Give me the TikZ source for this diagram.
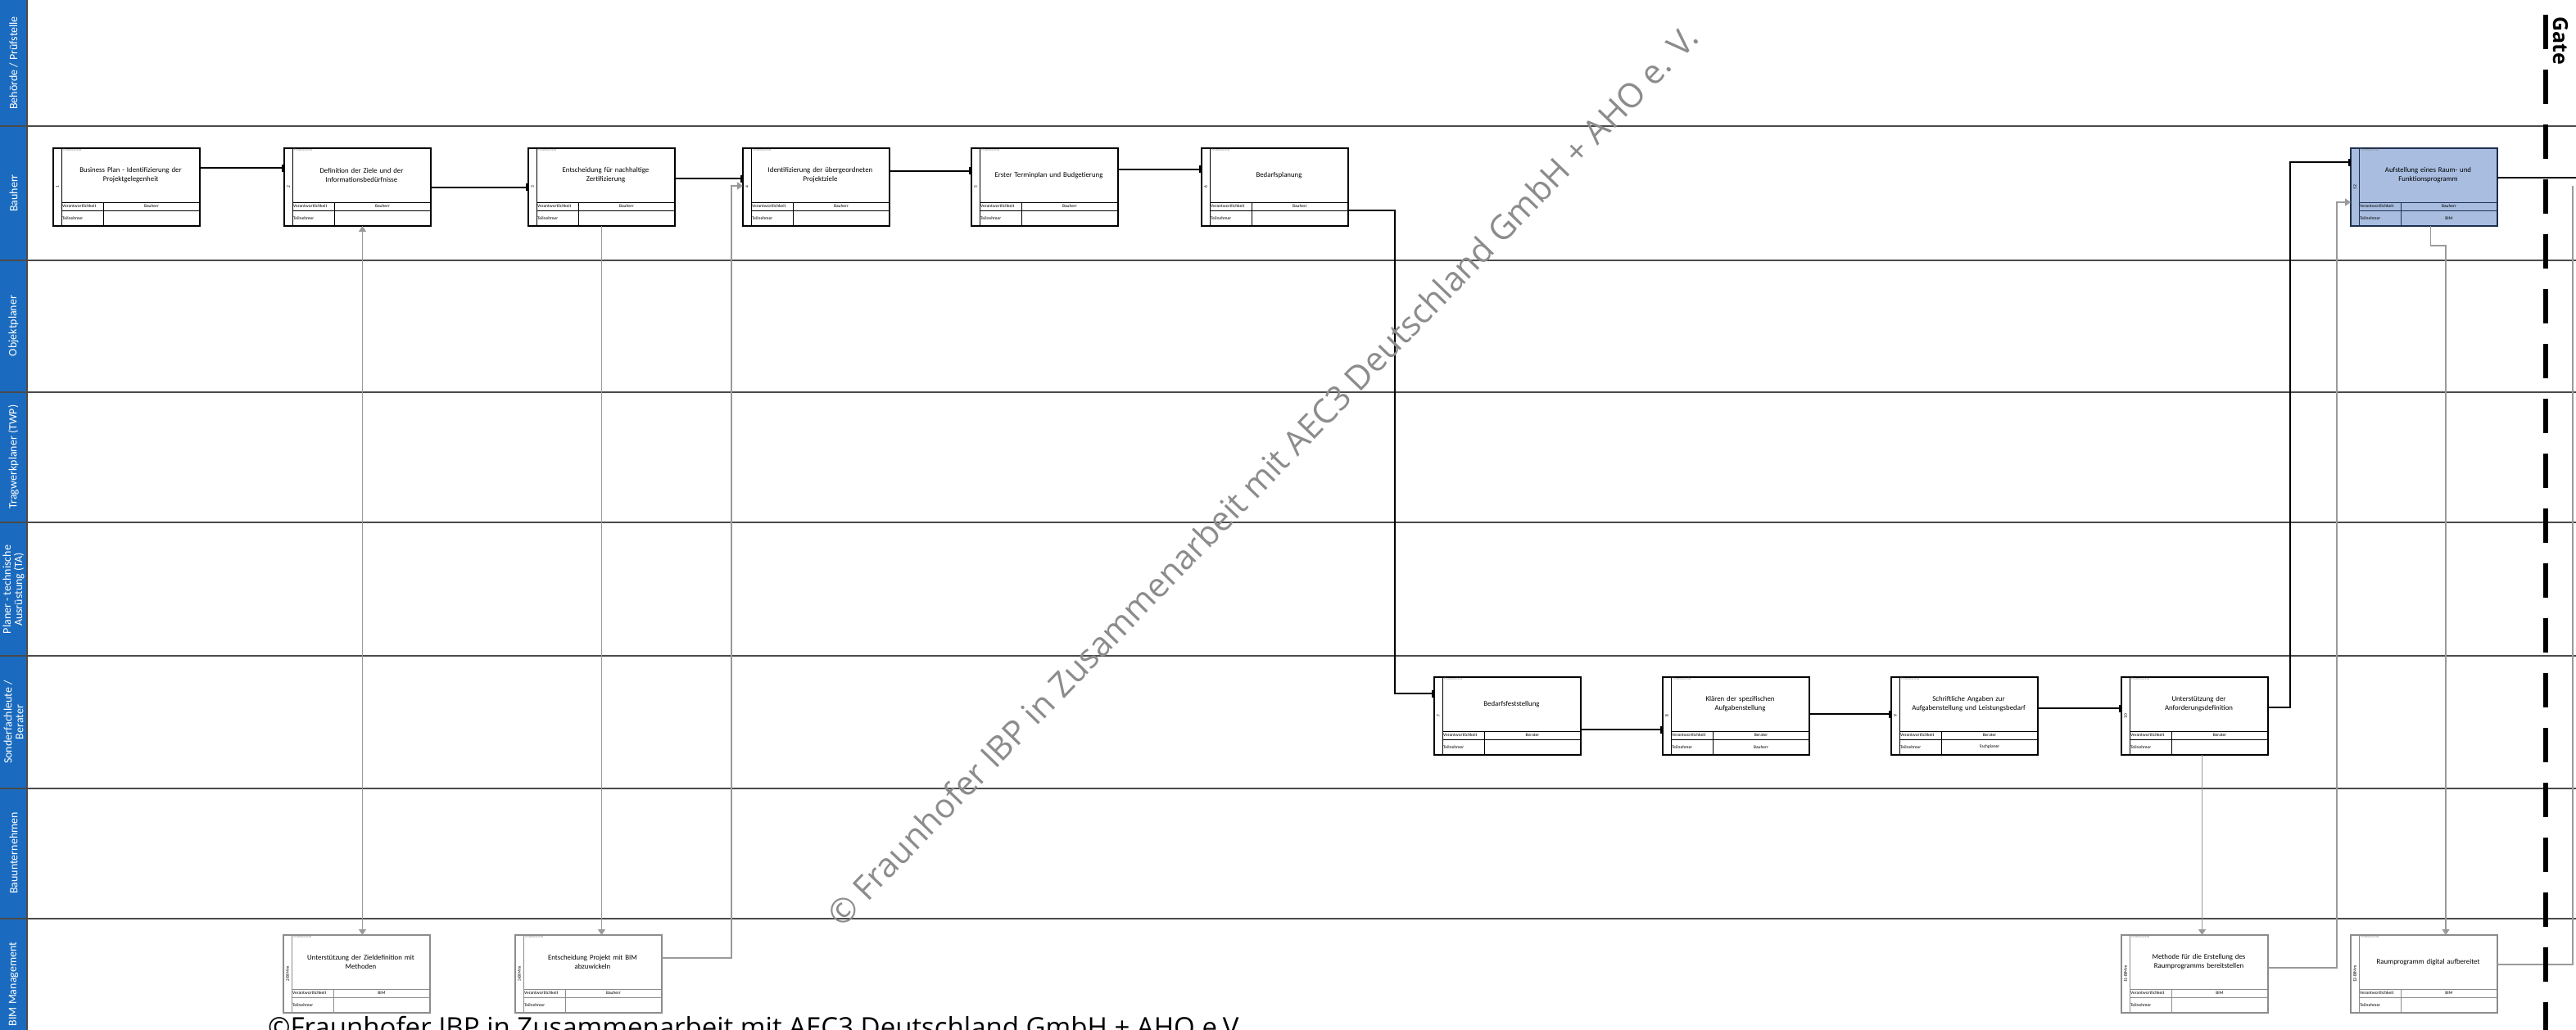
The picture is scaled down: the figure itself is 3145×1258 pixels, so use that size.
\documentclass[tikz,border=0pt]{standalone}
\usepackage{fontspec}
\setmainfont{Carlito}
\newfontfamily\osfont{Open Sans}
\usetikzlibrary{arrows.meta,calc}

\definecolor{lanebar}{HTML}{1A6BBF}
\definecolor{laneline}{HTML}{4A4A4A}
\definecolor{infogray}{HTML}{9A9A9A}
\definecolor{boxblue}{HTML}{A8BDE0}
\definecolor{boxnavy}{HTML}{1F2F4F}
\definecolor{bimline}{HTML}{8C8C8C}

% process box: name, position, line colour, fill, title, responsible, participants, strip label
\newcommand{\prozess}[8]{%
  \node[prozessbox, draw=#3, fill=#4] (#1) at (#2) {};
  \draw[boxline, draw=#3]
    ([xshift=10pt]#1.north west) -- ([xshift=10pt]#1.south west)
    ([xshift=10pt,yshift=-66pt]#1.north west) -- ([yshift=-66pt]#1.north east)
    ([xshift=10pt,yshift=-76pt]#1.north west) -- ([yshift=-76pt]#1.north east)
    ([xshift=61pt,yshift=-66pt]#1.north west) -- ([xshift=61pt]#1.south west);
  \node[titeltext] (#1-titel) at ([xshift=5pt,yshift=14.5pt]#1.center) {#5};
  \node[kleintext, anchor=west] (#1-vl) at ([xshift=11pt,yshift=-71pt]#1.north west) {Verantwortlichkeit};
  \node[kleintext] (#1-vr) at ([xshift=120pt,yshift=-71pt]#1.north west) {#6};
  \node[kleintext, anchor=west] (#1-tl) at ([xshift=11pt,yshift=-85.5pt]#1.north west) {Teilnehmer};
  \node[kleintext] (#1-tr) at ([xshift=120pt,yshift=-85.5pt]#1.north west) {#7};
  \node[kleintext, rotate=90] (#1-nr) at ([xshift=5pt]#1.west) {#8};
  \node[kopftext, anchor=north west] (#1-kopf) at ([xshift=11pt]#1.north west) {Prozessschritt};
}

\begin{document}
\begin{tikzpicture}[
  x=1pt, y=-1pt,
  prozessbox/.style={line width=1.4pt, minimum width=179pt, minimum height=95pt, inner sep=0pt, outer sep=0pt, anchor=north west},
  boxline/.style={line width=1pt},
  titeltext/.style={font=\fontsize{8.8}{11}\selectfont, align=center, text width=160pt, inner sep=0pt},
  kleintext/.style={font=\fontsize{5.5}{6}\selectfont, inner sep=0pt},
  kopftext/.style={font=\fontsize{4}{5}\selectfont, text=black!45, inner sep=1pt},
  lanelabel/.style={rotate=90, text=white, font=\fontsize{14}{14}\selectfont, align=center, inner sep=0pt},
  lanesep/.style={draw=laneline, line width=2pt},
  flow/.style={-{Rectangle[width=9pt,length=3.5pt]}, line width=2pt},
  info/.style={-{Triangle[width=9pt,length=7pt]}, draw=infogray, line width=1.5pt},
  infoboth/.style={{Triangle[width=9pt,length=7pt]}-{Triangle[width=9pt,length=7pt]}, draw=infogray, line width=1.5pt},
  gate/.style={line width=6pt, dash pattern=on 42pt off 25pt},
  watermark/.style={font=\osfont\fontsize{41}{41}\selectfont, text=black!45, rotate=46}
]
  \useasboundingbox (0,0) rectangle (3145,1258);
  \clip (0,0) rectangle (3145,1258);
  \fill[white] (0,0) rectangle (3145,1258);

  % lanes
  \fill[lanebar] (0,0) rectangle (33,1258);
  \foreach \y in {154,318,479,638,801,963,1122}
    \draw[lanesep] (0,\y) -- (3145,\y);
  \draw[lanesep] (33,0) -- (33,1258);

  \node[lanelabel] (lbehoerde) at (16.5,77) {Behörde / Prüfstelle};
  \node[lanelabel] (lbauherr) at (16.5,236) {Bauherr};
  \node[lanelabel] (lobjekt) at (16.5,398) {Objektplaner};
  \node[lanelabel] (ltwp) at (16.5,558) {Tragwerkplaner (TWP)};
  \node[lanelabel] (lta) at (16.5,720) {Planer - technische\\Ausrüstung (TA)};
  \node[lanelabel] (lberater) at (16.5,882) {Sonderfachleute /\\Berater};
  \node[lanelabel] (lbau) at (16.5,1042) {Bauunternehmen};
  \node[lanelabel] (lbim) at (16.5,1202) {BIM Management};

  % Bauherr
  \prozess{bp}{65,181}{black}{white}{Business Plan - Identifizierung der\\Projektgelegenheit}{Bauherr}{}{1}
  \prozess{ziel}{347,181}{black}{white}{Definition der Ziele und der\\Informationsbedürfnisse}{Bauherr}{}{2}
  \prozess{zert}{645,181}{black}{white}{Entscheidung für nachhaltige\\Zertifizierung}{Bauherr}{}{3}
  \prozess{projziel}{907,181}{black}{white}{Identifizierung der übergeordneten\\Projektziele}{Bauherr}{}{4}
  \prozess{termin}{1186,181}{black}{white}{Erster Terminplan und Budgetierung}{Bauherr}{}{5}
  \prozess{bedarf}{1467,181}{black}{white}{Bedarfsplanung}{Bauherr}{}{6}
  \prozess{raumprog}{2870,181}{boxnavy}{boxblue}{Aufstellung eines Raum- und\\Funktionsprogramm}{Bauherr}{BIM}{12}

  % Sonderfachleute / Berater
  \prozess{feststellung}{1751,827}{black}{white}{Bedarfsfeststellung}{Berater}{}{7}
  \prozess{klaeren}{2030,827}{black}{white}{Klären der spezifischen\\Aufgabenstellung}{Berater}{Bauherr}{8}
  \prozess{angaben}{2309,827}{black}{white}{Schriftliche Angaben zur\\Aufgabenstellung und Leistungsbedarf}{Berater}{Fachplaner}{9}
  \prozess{anforderung}{2590,827}{black}{white}{Unterstützung der\\Anforderungsdefinition}{Berater}{}{10}

  % BIM Management
  \prozess{zielmeth}{346,1142}{bimline}{white}{Unterstützung der Zieldefinition mit\\Methoden}{BIM}{}{2-BIMm}
  \prozess{bimentsch}{629,1142}{bimline}{white}{Entscheidung Projekt mit BIM\\abzuwickeln}{Bauherr}{}{3-BIMm}
  \prozess{methode}{2590,1142}{bimline}{white}{Methode für die Erstellung des\\Raumprogramms bereitstellen}{BIM}{}{11-BIMm}
  \prozess{digital}{2870,1142}{bimline}{white}{Raumprogramm digital aufbereitet}{BIM}{}{12-BIMm}

  % process flow
  \draw[flow] ([yshift=23.5pt]bp.east) -- ([yshift=23.5pt]ziel.west);
  \draw[flow] (ziel.east) -- (zert.west);
  \draw[flow] ([yshift=10.5pt]zert.east) -- ([yshift=10.5pt]projziel.west);
  \draw[flow] ([yshift=20pt]projziel.east) -- ([yshift=20pt]termin.west);
  \draw[flow] ([yshift=22pt]termin.east) -- ([yshift=22pt]bedarf.west);
  \draw[flow] ([yshift=-28.5pt]bedarf.east) -- ++(57,0) |- ([yshift=27.5pt]feststellung.west);
  \draw[flow] ([yshift=-16.5pt]feststellung.east) -- ([yshift=-16.5pt]klaeren.west);
  \draw[flow] ([yshift=2.5pt]klaeren.east) -- ([yshift=2.5pt]angaben.west);
  \draw[flow] ([yshift=9.5pt]angaben.east) -- ([yshift=9.5pt]anforderung.west);
  \draw[flow] ([yshift=10.5pt]anforderung.east) -- ++(27,0) |- ([yshift=30.5pt]raumprog.west);
  \coordinate (weiter) at (3145,217);
  \draw[line width=2pt] ([yshift=11.5pt]raumprog.east) -- (weiter);

  % information links
  \draw[infoboth] ([xshift=6pt]ziel.south) -- ([xshift=6pt]ziel.south |- zielmeth.north);
  \draw[info] (zert.south) -- (zert.south |- bimentsch.north);
  \draw[info] ([yshift=19.5pt]bimentsch.east) -- ++(85,0) |- ([yshift=1.5pt]projziel.west);
  \draw[info] ([xshift=9pt]anforderung.south) -- ([xshift=9pt]anforderung.south |- methode.north);
  \draw[info] ([yshift=7.5pt]methode.east) -- ++(84,0) |- ([yshift=-18.5pt]raumprog.west);
  \draw[info] ([xshift=8pt]raumprog.south) -- ++(0,24) -| ([xshift=26.5pt]digital.north);
  \coordinate (rechts) at (3141,227);
  \draw[draw=infogray, line width=1.5pt] ([yshift=11.5pt]digital.east) -| (rechts);

  % gate
  \draw[gate] (3108,18) -- (3108,1258);
  \node[rotate=-90, font=\osfont\bfseries\fontsize{25}{25}\selectfont, inner sep=0pt] (gatelabel) at (3126,50) {Gate};

  % copyright
  \node[watermark] (wasserzeichen) at (1541,581) {© Fraunhofer IBP in Zusammenarbeit mit AEC3 Deutschland GmbH + AHO e. V.};
  \node[anchor=north west, font=\osfont\fontsize{33}{33}\selectfont, inner sep=0pt] (fusszeile) at (327,1241) {©Fraunhofer IBP in Zusammenarbeit mit AEC3 Deutschland GmbH + AHO e.V.};
\end{tikzpicture}
\end{document}
